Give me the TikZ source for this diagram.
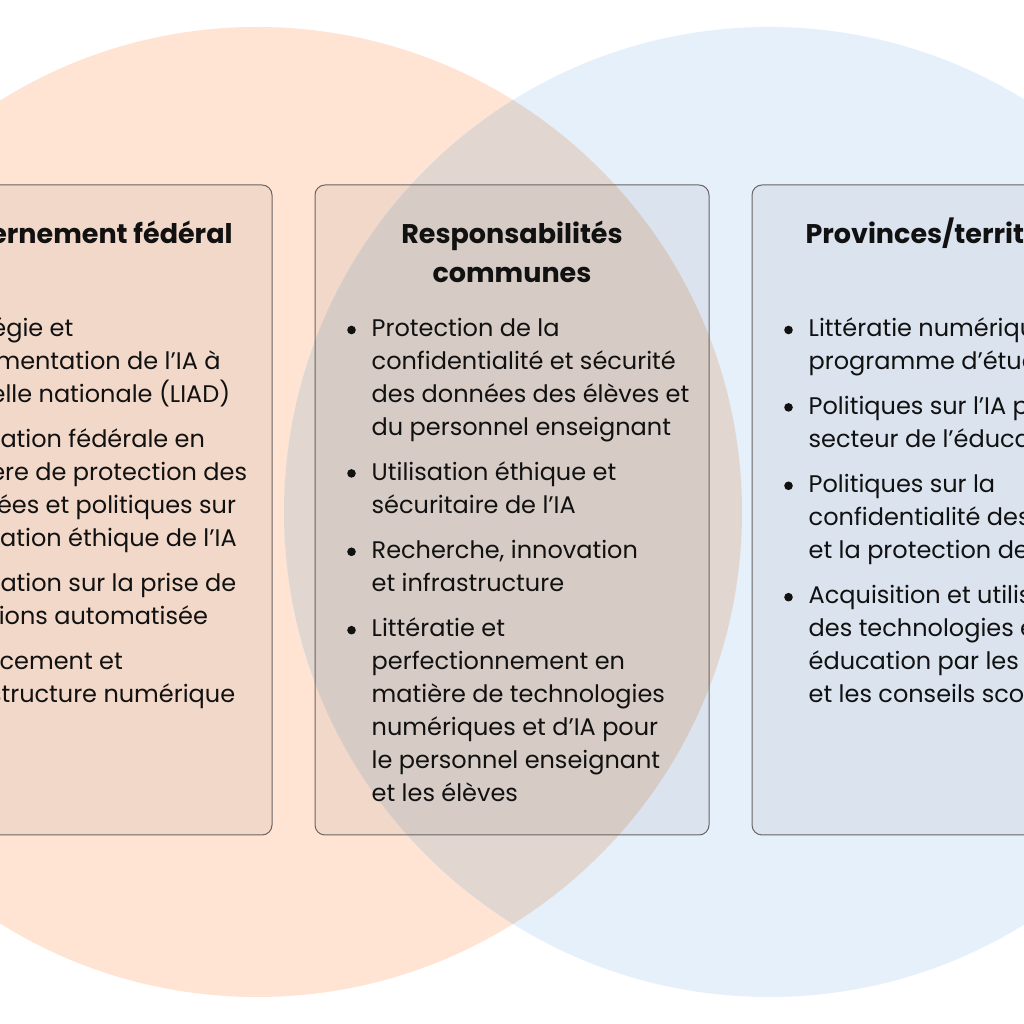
\documentclass[tikz,border=0pt]{standalone}
\usepackage{fontspec}
\setmainfont{Poppins}
\usetikzlibrary{positioning}
\definecolor{peach}{RGB}{255,228,212}
\definecolor{skyblue}{RGB}{230,240,251}
\definecolor{lens}{RGB}{226,214,208}
\definecolor{frame}{RGB}{105,100,98}
\definecolor{ink}{RGB}{17,17,17}

\begin{document}
\begin{tikzpicture}[
        x=1pt, y=1pt,
        panel/.style={rectangle, draw=frame, line width=1pt, fill=black, fill opacity=0.05, rounded corners=10pt, minimum width=394pt, minimum height=650pt, inner sep=0pt},
        heading/.style={font=\bfseries\fontsize{27}{39}\selectfont, text=ink, align=center, inner sep=0pt},
        entry/.style={font=\fontsize{24}{33}\selectfont, text=ink, align=left, inner sep=0pt}
    ]
        \useasboundingbox (0,0) rectangle (1024,1024);
        \clip (0,0) rectangle (1024,1024);
        \fill[white] (0,0) rectangle (1024,1024);

        % the two circles and their overlap
        \fill[peach] (257,512) circle (485);
        \fill[skyblue] (769,512) circle (485);
        \begin{scope}
            \clip (257,512) circle (485);
            \fill[lens] (769,512) circle (485);
        \end{scope}

        % panels
        \node[panel] (COMMON) at (512,514) {};
        \node[panel, left=42pt of COMMON] (FED) {};
        \node[panel, right=42pt of COMMON] (PROV) {};

        \node[heading, below=32pt of FED.north] (FEDTITLE) {\strut Gouvernement fédéral};
        \node[heading, below=32pt of COMMON.north] (COMMONTITLE) {\strut Responsabilités\\communes};
        \node[heading, below=32pt of PROV.north] (PROVTITLE) {\strut Provinces/territoires};

        % federal
        \node[entry, below right=129pt and 57pt of FED.north west] (F1) {\strut Stratégie et\\réglementation de l’IA à\\l’échelle nationale (LIAD)\strut};
        \node[entry, below=11pt of F1.south west, anchor=north west] (F2) {\strut Législation fédérale en\\matière de protection des\\données et politiques sur\\l’utilisation éthique de l’IA\strut};
        \node[entry, below=12pt of F2.south west, anchor=north west] (F3) {\strut Législation sur la prise de\\décisions automatisée\strut};
        \node[entry, below=12pt of F3.south west, anchor=north west] (F4) {\strut Financement et\\infrastructure numérique\strut};

        % shared
        \node[entry, below right=129pt and 57pt of COMMON.north west] (C1) {\strut Protection de la\\confidentialité et sécurité\\des données des élèves et\\du personnel enseignant\strut};
        \node[entry, below=11pt of C1.south west, anchor=north west] (C2) {\strut Utilisation éthique et\\sécuritaire de l’IA\strut};
        \node[entry, below=12pt of C2.south west, anchor=north west] (C3) {\strut Recherche, innovation\\et infrastructure\strut};
        \node[entry, below=12pt of C3.south west, anchor=north west] (C4) {\strut Littératie et\\perfectionnement en\\matière de technologies\\numériques et d’IA pour\\le personnel enseignant\\et les élèves\strut};

        % provinces
        \node[entry, below right=129pt and 57pt of PROV.north west] (P1) {\strut Littératie numérique et\\programme d’études\strut};
        \node[entry, below=11pt of P1.south west, anchor=north west] (P2) {\strut Politiques sur l’IA pour le\\secteur de l’éducation\strut};
        \node[entry, below=12pt of P2.south west, anchor=north west] (P3) {\strut Politiques sur la\\confidentialité des données\\et la protection des élèves\strut};
        \node[entry, below=12pt of P3.south west, anchor=north west] (P4) {\strut Acquisition et utilisation\\des technologies en\\éducation par les écoles\\et les conseils scolaires\strut};

        % bullets
        \foreach \n in {F1,F2,F3,F4,C1,C2,C3,C4,P1,P2,P3,P4}
            \fill[ink] ([shift={(-20pt,-16.5pt)}]\n.north west) circle (4.3pt);
    \end{tikzpicture}
\end{document}
